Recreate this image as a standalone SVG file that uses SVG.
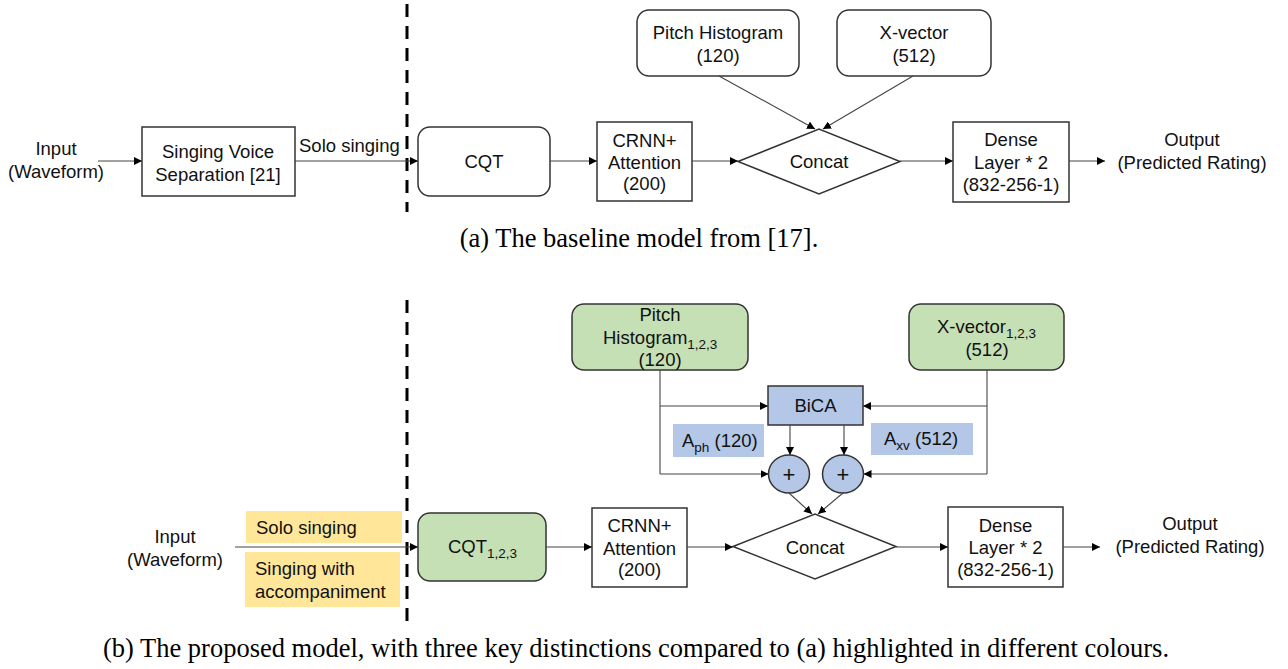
<svg xmlns="http://www.w3.org/2000/svg" width="1288" height="669" viewBox="0 0 1288 669">
<defs>
<marker id="arr" viewBox="0 0 10 10" refX="10" refY="5" markerWidth="8" markerHeight="8" markerUnits="userSpaceOnUse" orient="auto">
<path d="M0,0 L10,5 L0,10 z" fill="#000"/>
</marker>
<style>
text{font-family:"Liberation Sans",Arial,sans-serif;font-size:18.5px;fill:#111;}
.c{text-anchor:middle;}
.sub{font-size:13.5px;}
.plus{font-size:22px;}
.cap{font-family:"Liberation Serif","Times New Roman",serif;font-size:26.5px;text-anchor:middle;fill:#000;}
.box{fill:#fff;stroke:#333;stroke-width:1.5;}
.green{fill:#C5E0B4;stroke:#333;stroke-width:1.5;}
.blue{fill:#B4C7E7;stroke:#333;stroke-width:1.5;}
.lbl-blue{fill:#B4C7E7;}
.yellow{fill:#FFE699;}
.edge{fill:none;stroke:#444;stroke-width:1.1;marker-end:url(#arr);}
.line{fill:none;stroke:#444;stroke-width:1.1;}
.dash{stroke:#000;stroke-width:3;stroke-dasharray:13 9;}
</style>
</defs>

<!-- dashed separators -->
<line class="dash" x1="407" y1="4" x2="407" y2="212"/>
<line class="dash" x1="407" y1="300" x2="407" y2="622"/>

<!-- ===== Panel (a) ===== -->
<g id="a-input"><text class="c" x="56" y="155">Input</text><text class="c" x="56" y="178">(Waveform)</text></g>
<g id="a-svs"><rect class="box" x="142" y="127" width="153" height="69"/><text class="c" x="218" y="158">Singing Voice</text><text class="c" x="218" y="181">Separation [21]</text></g>
<g id="a-solo"><text x="299" y="152">Solo singing</text></g>
<g id="a-cqt"><rect class="box" x="418" y="127" width="132" height="69" rx="12"/><text class="c" x="484" y="168">CQT</text></g>
<g id="a-crnn"><rect class="box" x="597" y="122" width="95" height="79"/><text class="c" x="644.5" y="147">CRNN+</text><text class="c" x="644.5" y="169">Attention</text><text class="c" x="644.5" y="190">(200)</text></g>
<g id="a-concat"><polygon class="box" points="738,161.5 819,129 900,161.5 819,194"/><text class="c" x="819" y="168">Concat</text></g>
<g id="a-pitch"><rect class="box" x="637" y="10" width="162" height="66" rx="12"/><text class="c" x="718" y="39">Pitch Histogram</text><text class="c" x="718" y="62">(120)</text></g>
<g id="a-xvec"><rect class="box" x="837" y="10" width="154" height="66" rx="12"/><text class="c" x="914" y="39">X-vector</text><text class="c" x="914" y="62">(512)</text></g>
<g id="a-dense"><rect class="box" x="953" y="122" width="116" height="80"/><text class="c" x="1011" y="146">Dense</text><text class="c" x="1011" y="169">Layer * 2</text><text class="c" x="1011" y="191">(832-256-1)</text></g>
<g id="a-output"><text class="c" x="1192" y="146">Output</text><text class="c" x="1192" y="169">(Predicted Rating)</text></g>
<g id="a-caption"><text class="cap" x="639" y="247">(a) The baseline model from [17].</text></g>

<g id="a-connectors">
<line class="edge" x1="98" y1="161" x2="142" y2="161"/>
<line class="edge" x1="295" y1="161" x2="418" y2="161"/>
<line class="edge" x1="550" y1="161" x2="597" y2="161"/>
<line class="edge" x1="692" y1="161" x2="738" y2="161"/>
<line class="edge" x1="719" y1="76" x2="815" y2="129"/>
<line class="edge" x1="913" y1="76" x2="823" y2="129"/>
<line class="edge" x1="900" y1="161" x2="953" y2="161"/>
<line class="edge" x1="1069" y1="161" x2="1105" y2="161"/>
</g>

<!-- ===== Panel (b) ===== -->
<g id="b-input"><text class="c" x="175" y="543">Input</text><text class="c" x="175" y="566">(Waveform)</text></g>
<g id="b-solo"><rect class="yellow" x="246" y="511" width="156" height="32"/><text x="256" y="534">Solo singing</text></g>
<g id="b-acc"><rect class="yellow" x="245" y="552" width="155" height="55"/><text x="255" y="575">Singing with</text><text x="255" y="598">accompaniment</text></g>
<g id="b-cqt"><rect class="green" x="418" y="513" width="128" height="68" rx="12"/><text x="448" y="553">CQT<tspan class="sub" dy="5">1,2,3</tspan></text></g>
<g id="b-crnn"><rect class="box" x="592" y="508" width="95" height="79"/><text class="c" x="639.5" y="532">CRNN+</text><text class="c" x="639.5" y="555">Attention</text><text class="c" x="639.5" y="576">(200)</text></g>
<g id="b-concat"><polygon class="box" points="733,546.5 815,514 896,546.5 815,579"/><text class="c" x="815" y="554">Concat</text></g>
<g id="b-dense"><rect class="box" x="948" y="507" width="115" height="80"/><text class="c" x="1005.5" y="532">Dense</text><text class="c" x="1005.5" y="554">Layer * 2</text><text class="c" x="1005.5" y="576">(832-256-1)</text></g>
<g id="b-output"><text class="c" x="1190" y="530">Output</text><text class="c" x="1190" y="553">(Predicted Rating)</text></g>
<g id="b-pitch"><rect class="green" x="572" y="304" width="176" height="66" rx="12"/><text class="c" x="660" y="321">Pitch</text><text x="603" y="344">Histogram<tspan class="sub" dy="5">1,2,3</tspan></text><text class="c" x="660" y="366">(120)</text></g>
<g id="b-xvec"><rect class="green" x="909" y="304" width="155" height="66" rx="12"/><text x="937" y="333">X-vector<tspan class="sub" dy="5">1,2,3</tspan></text><text class="c" x="987" y="356">(512)</text></g>
<g id="b-bica"><rect class="blue" x="768" y="386" width="95" height="39"/><text class="c" x="815.5" y="412">BiCA</text></g>
<g id="b-aph"><rect class="lbl-blue" x="673" y="424" width="91" height="33"/><text x="682" y="447">A<tspan class="sub" dy="5">ph</tspan><tspan dy="-5"> (120)</tspan></text></g>
<g id="b-axv"><rect class="lbl-blue" x="871" y="423" width="102" height="32"/><text x="884" y="445">A<tspan class="sub" dy="5">xv</tspan><tspan dy="-5"> (512)</tspan></text></g>
<g id="b-plus1"><ellipse class="blue" cx="789" cy="474" rx="20.5" ry="19"/><text class="c plus" x="789" y="482">+</text></g>
<g id="b-plus2"><ellipse class="blue" cx="843" cy="474" rx="20.5" ry="19"/><text class="c plus" x="843" y="482">+</text></g>
<g id="b-caption"><text class="cap" x="636" y="657">(b) The proposed model, with three key distinctions compared to (a) highlighted in different colours.</text></g>

<g id="b-connectors">
<line class="edge" x1="235" y1="547" x2="418" y2="547"/>
<line class="edge" x1="546" y1="547" x2="592" y2="547"/>
<line class="edge" x1="687" y1="547" x2="733" y2="547"/>
<line class="edge" x1="896" y1="547" x2="948" y2="547"/>
<line class="edge" x1="1063" y1="547" x2="1100" y2="547"/>
<polyline class="line" points="660,370 660,474"/>
<line class="edge" x1="660" y1="406" x2="768" y2="406"/>
<line class="edge" x1="660" y1="474" x2="768.5" y2="474"/>
<polyline class="line" points="987,370 987,474"/>
<line class="edge" x1="987" y1="406" x2="863" y2="406"/>
<line class="edge" x1="987" y1="474" x2="863.5" y2="474"/>
<line class="edge" x1="790" y1="425" x2="790" y2="455"/>
<line class="edge" x1="844" y1="425" x2="844" y2="455"/>
<line class="edge" x1="789" y1="493" x2="812" y2="514"/>
<line class="edge" x1="843" y1="493" x2="818" y2="514"/>
</g>
</svg>
